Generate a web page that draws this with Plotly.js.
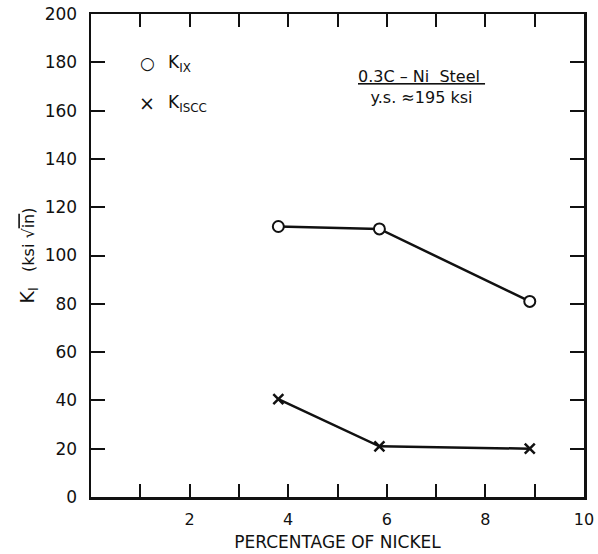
<!DOCTYPE html>
<html>
<head>
<meta charset="utf-8">
<script src="https://cdn.plot.ly/plotly-3.0.1.min.js"></script>
<style>html,body{margin:0;padding:0;background:#fff;}#chart{width:598px;height:554px;}</style>
</head>
<body>
<div id="chart"></div>
<script>
// Data
const nickelPct = [3.8, 5.85, 8.9];
const kIX = [112, 111, 81];
const kISCC = [40.5, 21, 20];
const xTickVals = [2, 4, 6, 8, 10];
const xTickText = ['2', '4', '6', '8', '10'];
const yTickVals = [0, 20, 40, 60, 80, 100, 120, 140, 160, 180, 200];

const FONT = 'DejaVu Sans, Liberation Sans, sans-serif';

const traces = [
  {
    x: nickelPct, y: kIX, type: 'scatter', mode: 'lines+markers', name: 'K_IX',
    line: {color: '#111', width: 2.5},
    marker: {symbol: 'circle', size: 11, color: '#fff', line: {color: '#111', width: 2}},
    cliponaxis: false
  },
  {
    x: nickelPct, y: kISCC, type: 'scatter', mode: 'lines+markers', name: 'K_ISCC',
    line: {color: '#111', width: 2.5},
    marker: {symbol: 'x-thin-open', size: 10, color: '#111', line: {color: '#111', width: 2.5}},
    cliponaxis: false
  }
];

const layout = {
  width: 598, height: 554,
  margin: {l: 91, r: 14, t: 14, b: 57},
  paper_bgcolor: '#fff', plot_bgcolor: '#fff',
  showlegend: false,
  font: {family: FONT, color: '#111'},
  xaxis: {
    range: [0, 10], tickmode: 'array', tickvals: xTickVals, ticktext: xTickText,
    ticks: 'inside', ticklen: 13, tickwidth: 2, tickcolor: '#111',
    minor: {dtick: 1, tick0: 0, ticks: 'inside', ticklen: 13, tickwidth: 2, tickcolor: '#111', showgrid: false},
    showline: true, linecolor: '#111', linewidth: 2.5, mirror: 'ticks',
    showgrid: false, zeroline: false,
    tickfont: {size: 16, family: FONT, color: '#111'},
    ticklabelstandoff: 6,
    title: {text: 'PERCENTAGE OF NICKEL', font: {size: 17, family: FONT, color: '#111'}, standoff: 9}
  },
  yaxis: {
    range: [0, 200], tickmode: 'array', tickvals: yTickVals,
    ticks: 'inside', ticklen: 14, tickwidth: 2, tickcolor: '#111',
    showline: true, linecolor: '#111', linewidth: 2.5, mirror: 'ticks',
    showgrid: false, zeroline: false,
    tickfont: {size: 17, family: FONT, color: '#111'},
    ticklabelstandoff: 8,
    title: {text: "<span style='font-size:19px'>K<sub>I</sub></span>   (ksi √<span style='text-decoration:overline'>in</span>)", font: {size: 16, family: FONT, color: '#111'}, standoff: 6}
  },
  annotations: [
    {xref: 'paper', yref: 'paper', x: 0.1136, y: 0.8986, text: '○', showarrow: false, xanchor: 'center', yanchor: 'middle', font: {size: 17, family: FONT, color: '#111'}},
    {xref: 'paper', yref: 'paper', x: 0.152, y: 0.8966, text: 'K<sub>IX</sub>', showarrow: false, xanchor: 'left', yanchor: 'middle', font: {size: 17, family: FONT, color: '#111'}},
    {xref: 'paper', yref: 'paper', x: 0.1136, y: 0.8157, text: '×', showarrow: false, xanchor: 'center', yanchor: 'middle', font: {size: 19, family: FONT, color: '#111'}},
    {xref: 'paper', yref: 'paper', x: 0.152, y: 0.8137, text: 'K<sub>ISCC</sub>', showarrow: false, xanchor: 'left', yanchor: 'middle', font: {size: 17, family: FONT, color: '#111'}},
    {xref: 'paper', yref: 'paper', x: 0.671, y: 0.849, text: '<u>0.3C – Ni  Steel </u><br>y.s. ≈195 ksi', showarrow: false, xanchor: 'center', yanchor: 'middle', align: 'center', font: {size: 16, family: FONT, color: '#111'}}
  ]
};

Plotly.newPlot('chart', traces, layout, {displayModeBar: false, staticPlot: true});
</script>
</body>
</html>
